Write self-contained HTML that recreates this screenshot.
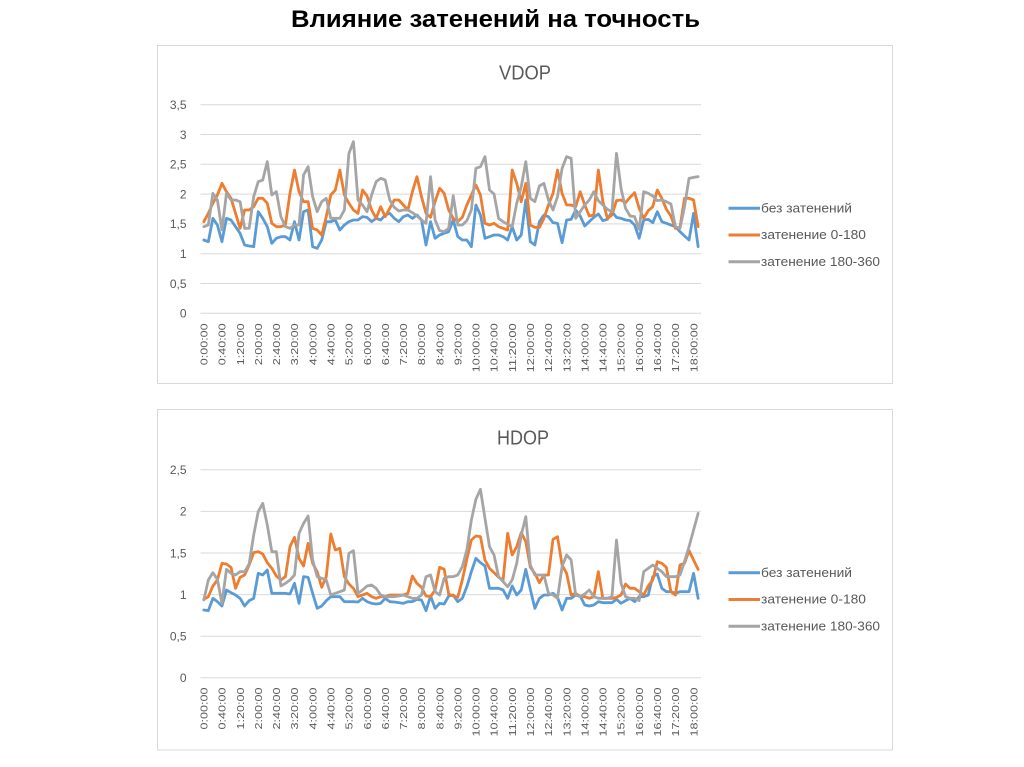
<!DOCTYPE html>
<html><head><meta charset="utf-8">
<style>html,body{margin:0;padding:0;background:#fff;width:1024px;height:767px;overflow:hidden}</style>
</head><body>
<svg width="1024" height="767" viewBox="0 0 1024 767" xmlns="http://www.w3.org/2000/svg" font-family="'Liberation Sans', 'DejaVu Sans', sans-serif">
<rect width="1024" height="767" fill="#fff"/>
<text x="291" y="27" font-size="24" font-weight="bold" fill="#000" textLength="409" lengthAdjust="spacingAndGlyphs">Влияние затенений на точность</text>

<!-- ===== VDOP ===== -->
<rect x="157.5" y="45.5" width="735" height="338" fill="#fff" stroke="#d9d9d9"/>
<text x="525" y="79.3" font-size="20" fill="#595959" text-anchor="middle" textLength="52" lengthAdjust="spacingAndGlyphs">VDOP</text>
<g stroke="#d9d9d9" stroke-width="1">
<line x1="200.5" x2="701" y1="104.7" y2="104.7"/>
<line x1="200.5" x2="701" y1="134.5" y2="134.5"/>
<line x1="200.5" x2="701" y1="164.3" y2="164.3"/>
<line x1="200.5" x2="701" y1="194.1" y2="194.1"/>
<line x1="200.5" x2="701" y1="223.9" y2="223.9"/>
<line x1="200.5" x2="701" y1="253.7" y2="253.7"/>
<line x1="200.5" x2="701" y1="283.5" y2="283.5"/>
<line x1="200.5" x2="701" y1="313.3" y2="313.3"/>
</g>
<g font-size="12" fill="#595959" text-anchor="end">
<text x="186.5" y="109">3,5</text>
<text x="186.5" y="138.8">3</text>
<text x="186.5" y="168.6">2,5</text>
<text x="186.5" y="198.4">2</text>
<text x="186.5" y="228.2">1,5</text>
<text x="186.5" y="258">1</text>
<text x="186.5" y="287.8">0,5</text>
<text x="186.5" y="317.6">0</text>
</g>
<g font-size="10.5" fill="#595959">
<text transform="translate(207.5,365.3) rotate(-90)" textLength="42" lengthAdjust="spacingAndGlyphs">0:00:00</text>
<text transform="translate(225.6,365.3) rotate(-90)" textLength="42" lengthAdjust="spacingAndGlyphs">0:40:00</text>
<text transform="translate(243.8,365.3) rotate(-90)" textLength="42" lengthAdjust="spacingAndGlyphs">1:20:00</text>
<text transform="translate(261.9,365.3) rotate(-90)" textLength="42" lengthAdjust="spacingAndGlyphs">2:00:00</text>
<text transform="translate(280.1,365.3) rotate(-90)" textLength="42" lengthAdjust="spacingAndGlyphs">2:40:00</text>
<text transform="translate(298.2,365.3) rotate(-90)" textLength="42" lengthAdjust="spacingAndGlyphs">3:20:00</text>
<text transform="translate(316.3,365.3) rotate(-90)" textLength="42" lengthAdjust="spacingAndGlyphs">4:00:00</text>
<text transform="translate(334.5,365.3) rotate(-90)" textLength="42" lengthAdjust="spacingAndGlyphs">4:40:00</text>
<text transform="translate(352.6,365.3) rotate(-90)" textLength="42" lengthAdjust="spacingAndGlyphs">5:20:00</text>
<text transform="translate(370.8,365.3) rotate(-90)" textLength="42" lengthAdjust="spacingAndGlyphs">6:00:00</text>
<text transform="translate(388.9,365.3) rotate(-90)" textLength="42" lengthAdjust="spacingAndGlyphs">6:40:00</text>
<text transform="translate(407.0,365.3) rotate(-90)" textLength="42" lengthAdjust="spacingAndGlyphs">7:20:00</text>
<text transform="translate(425.2,365.3) rotate(-90)" textLength="42" lengthAdjust="spacingAndGlyphs">8:00:00</text>
<text transform="translate(443.3,365.3) rotate(-90)" textLength="42" lengthAdjust="spacingAndGlyphs">8:40:00</text>
<text transform="translate(461.5,365.3) rotate(-90)" textLength="42" lengthAdjust="spacingAndGlyphs">9:20:00</text>
<text transform="translate(479.6,372.3) rotate(-90)" textLength="49" lengthAdjust="spacingAndGlyphs">10:00:00</text>
<text transform="translate(497.7,372.3) rotate(-90)" textLength="49" lengthAdjust="spacingAndGlyphs">10:40:00</text>
<text transform="translate(515.9,372.3) rotate(-90)" textLength="49" lengthAdjust="spacingAndGlyphs">11:20:00</text>
<text transform="translate(534.0,372.3) rotate(-90)" textLength="49" lengthAdjust="spacingAndGlyphs">12:00:00</text>
<text transform="translate(552.2,372.3) rotate(-90)" textLength="49" lengthAdjust="spacingAndGlyphs">12:40:00</text>
<text transform="translate(570.3,372.3) rotate(-90)" textLength="49" lengthAdjust="spacingAndGlyphs">13:20:00</text>
<text transform="translate(588.4,372.3) rotate(-90)" textLength="49" lengthAdjust="spacingAndGlyphs">14:00:00</text>
<text transform="translate(606.6,372.3) rotate(-90)" textLength="49" lengthAdjust="spacingAndGlyphs">14:40:00</text>
<text transform="translate(624.7,372.3) rotate(-90)" textLength="49" lengthAdjust="spacingAndGlyphs">15:20:00</text>
<text transform="translate(642.9,372.3) rotate(-90)" textLength="49" lengthAdjust="spacingAndGlyphs">16:00:00</text>
<text transform="translate(661.0,372.3) rotate(-90)" textLength="49" lengthAdjust="spacingAndGlyphs">16:40:00</text>
<text transform="translate(679.1,372.3) rotate(-90)" textLength="49" lengthAdjust="spacingAndGlyphs">17:20:00</text>
<text transform="translate(697.3,372.3) rotate(-90)" textLength="49" lengthAdjust="spacingAndGlyphs">18:00:00</text>
</g>
<g transform="translate(203.8,130) scale(4.535,0.333333)" fill="none" stroke-width="2.8" stroke-linejoin="round" stroke-linecap="round">
<polyline vector-effect="non-scaling-stroke" stroke="#5b9bd5" points="0,330 1,335 2,265 3,285 4,335 5,265 6,270 7,290 8,310 9,345 10,348 11,350 12,245 13,265 14,290 15,340 16,325 17,320 18,320 19,330 20,275 21,330 22,245 23,240 24,350 25,355 26,330 27,275 28,275 29,270 30,300 31,285 32,275 33,270 34,270 35,260 36,262 37,275 38,265 39,270 40,255 41,250 42,265 43,275 44,260 45,255 46,265 47,255 48,270 49,345 50,275 51,325 52,315 53,310 54,305 55,270 56,320 57,330 58,330 59,350 60,225 61,255 62,325 63,320 64,315 65,315 66,320 67,330 68,290 69,330 70,315 71,210 72,335 73,345 74,275 75,255 76,260 77,278 78,280 79,338 80,270 81,268 82,240 83,258 84,288 85,275 86,262 87,252 88,272 89,268 90,245 91,262 92,265 93,270 94,272 95,285 96,325 97,270 98,268 99,278 100,245 101,275 102,280 103,285 104,290 105,305 106,318 107,330 108,250 109,350"/>
<polyline vector-effect="non-scaling-stroke" stroke="#ed7d31" points="0,275 1,250 2,220 3,195 4,160 5,185 6,205 7,250 8,295 9,240 10,240 11,230 12,205 13,205 14,220 15,280 16,290 17,290 18,285 19,190 20,120 21,185 22,215 23,215 24,295 25,300 26,315 27,260 28,195 29,180 30,120 31,195 32,220 33,240 34,250 35,180 36,198 37,240 38,265 39,230 40,260 41,235 42,210 43,210 44,225 45,240 46,185 47,140 48,200 49,250 50,262 51,215 52,175 53,190 54,240 55,265 56,275 57,262 58,225 59,195 60,165 61,195 62,280 63,285 64,280 65,290 66,295 67,300 68,120 69,160 70,215 71,160 72,285 73,292 74,292 75,265 76,225 77,190 78,120 79,190 80,225 81,225 82,230 83,185 84,225 85,258 86,255 87,120 88,215 89,265 90,255 91,212 92,210 93,218 94,202 95,188 96,235 97,265 98,242 99,230 100,180 101,205 102,238 103,258 104,295 105,292 106,205 107,205 108,210 109,290"/>
<polyline vector-effect="non-scaling-stroke" stroke="#a5a5a5" points="0,290 1,285 2,190 3,210 4,300 5,190 6,210 7,210 8,215 9,295 10,295 11,200 12,155 13,150 14,95 15,195 16,185 17,260 18,290 19,295 20,285 21,285 22,135 23,110 24,200 25,245 26,215 27,205 28,265 29,265 30,265 31,240 32,70 33,35 34,210 35,225 36,245 37,195 38,155 39,145 40,150 41,210 42,232 43,243 44,240 45,240 46,248 47,258 48,270 49,280 50,140 51,270 52,302 53,305 54,295 55,197 56,285 57,285 58,272 59,240 60,115 61,110 62,80 63,180 64,192 65,265 66,275 67,283 68,290 69,220 70,170 71,95 72,205 73,215 74,168 75,160 76,210 77,240 78,200 79,115 80,80 81,85 82,265 83,245 84,225 85,210 86,185 87,212 88,225 89,238 90,245 91,70 92,175 93,235 94,258 95,260 96,298 97,185 98,190 99,198 100,212 101,210 102,215 103,222 104,290 105,295 106,230 107,145 108,142 109,140"/>
</g>
<g stroke-width="3">
<line x1="728.5" x2="760" y1="208.3" y2="208.3" stroke="#5b9bd5"/>
<line x1="728.5" x2="760" y1="235" y2="235" stroke="#ed7d31"/>
<line x1="728.5" x2="760" y1="261.7" y2="261.7" stroke="#a5a5a5"/>
</g>
<g font-size="12.5" fill="#595959">
<text x="761" y="212.3" textLength="91" lengthAdjust="spacingAndGlyphs">без затенений</text>
<text x="761" y="239.2" textLength="105" lengthAdjust="spacingAndGlyphs">затенение 0-180</text>
<text x="761" y="265.9" textLength="119" lengthAdjust="spacingAndGlyphs">затенение 180-360</text>
</g>

<!-- ===== HDOP ===== -->
<rect x="157.5" y="409.5" width="735" height="340.5" fill="#fff" stroke="#d9d9d9"/>
<text x="523" y="444.3" font-size="20" fill="#595959" text-anchor="middle" textLength="52" lengthAdjust="spacingAndGlyphs">HDOP</text>
<g stroke="#d9d9d9" stroke-width="1">
<line x1="200.5" x2="701" y1="469.8" y2="469.8"/>
<line x1="200.5" x2="701" y1="511.4" y2="511.4"/>
<line x1="200.5" x2="701" y1="553" y2="553"/>
<line x1="200.5" x2="701" y1="594.6" y2="594.6"/>
<line x1="200.5" x2="701" y1="636.2" y2="636.2"/>
<line x1="200.5" x2="701" y1="677.8" y2="677.8"/>
</g>
<g font-size="12" fill="#595959" text-anchor="end">
<text x="186.5" y="474.1">2,5</text>
<text x="186.5" y="515.7">2</text>
<text x="186.5" y="557.3">1,5</text>
<text x="186.5" y="598.9">1</text>
<text x="186.5" y="640.5">0,5</text>
<text x="186.5" y="682.1">0</text>
</g>
<g font-size="10.5" fill="#595959">
<text transform="translate(207.5,729.5) rotate(-90)" textLength="42" lengthAdjust="spacingAndGlyphs">0:00:00</text>
<text transform="translate(225.6,729.5) rotate(-90)" textLength="42" lengthAdjust="spacingAndGlyphs">0:40:00</text>
<text transform="translate(243.8,729.5) rotate(-90)" textLength="42" lengthAdjust="spacingAndGlyphs">1:20:00</text>
<text transform="translate(261.9,729.5) rotate(-90)" textLength="42" lengthAdjust="spacingAndGlyphs">2:00:00</text>
<text transform="translate(280.1,729.5) rotate(-90)" textLength="42" lengthAdjust="spacingAndGlyphs">2:40:00</text>
<text transform="translate(298.2,729.5) rotate(-90)" textLength="42" lengthAdjust="spacingAndGlyphs">3:20:00</text>
<text transform="translate(316.3,729.5) rotate(-90)" textLength="42" lengthAdjust="spacingAndGlyphs">4:00:00</text>
<text transform="translate(334.5,729.5) rotate(-90)" textLength="42" lengthAdjust="spacingAndGlyphs">4:40:00</text>
<text transform="translate(352.6,729.5) rotate(-90)" textLength="42" lengthAdjust="spacingAndGlyphs">5:20:00</text>
<text transform="translate(370.8,729.5) rotate(-90)" textLength="42" lengthAdjust="spacingAndGlyphs">6:00:00</text>
<text transform="translate(388.9,729.5) rotate(-90)" textLength="42" lengthAdjust="spacingAndGlyphs">6:40:00</text>
<text transform="translate(407.0,729.5) rotate(-90)" textLength="42" lengthAdjust="spacingAndGlyphs">7:20:00</text>
<text transform="translate(425.2,729.5) rotate(-90)" textLength="42" lengthAdjust="spacingAndGlyphs">8:00:00</text>
<text transform="translate(443.3,729.5) rotate(-90)" textLength="42" lengthAdjust="spacingAndGlyphs">8:40:00</text>
<text transform="translate(461.5,729.5) rotate(-90)" textLength="42" lengthAdjust="spacingAndGlyphs">9:20:00</text>
<text transform="translate(479.6,736.5) rotate(-90)" textLength="49" lengthAdjust="spacingAndGlyphs">10:00:00</text>
<text transform="translate(497.7,736.5) rotate(-90)" textLength="49" lengthAdjust="spacingAndGlyphs">10:40:00</text>
<text transform="translate(515.9,736.5) rotate(-90)" textLength="49" lengthAdjust="spacingAndGlyphs">11:20:00</text>
<text transform="translate(534.0,736.5) rotate(-90)" textLength="49" lengthAdjust="spacingAndGlyphs">12:00:00</text>
<text transform="translate(552.2,736.5) rotate(-90)" textLength="49" lengthAdjust="spacingAndGlyphs">12:40:00</text>
<text transform="translate(570.3,736.5) rotate(-90)" textLength="49" lengthAdjust="spacingAndGlyphs">13:20:00</text>
<text transform="translate(588.4,736.5) rotate(-90)" textLength="49" lengthAdjust="spacingAndGlyphs">14:00:00</text>
<text transform="translate(606.6,736.5) rotate(-90)" textLength="49" lengthAdjust="spacingAndGlyphs">14:40:00</text>
<text transform="translate(624.7,736.5) rotate(-90)" textLength="49" lengthAdjust="spacingAndGlyphs">15:20:00</text>
<text transform="translate(642.9,736.5) rotate(-90)" textLength="49" lengthAdjust="spacingAndGlyphs">16:00:00</text>
<text transform="translate(661.0,736.5) rotate(-90)" textLength="49" lengthAdjust="spacingAndGlyphs">16:40:00</text>
<text transform="translate(679.1,736.5) rotate(-90)" textLength="49" lengthAdjust="spacingAndGlyphs">17:20:00</text>
<text transform="translate(697.3,736.5) rotate(-90)" textLength="49" lengthAdjust="spacingAndGlyphs">18:00:00</text>
</g>
<g transform="translate(203.8,480) scale(4.535,0.333333)" fill="none" stroke-width="2.8" stroke-linejoin="round" stroke-linecap="round">
<polyline vector-effect="non-scaling-stroke" stroke="#5b9bd5" points="0,390 1,392 2,355 3,365 4,378 5,330 6,338 7,345 8,355 9,378 10,362 11,355 12,280 13,285 14,270 15,340 16,340 17,340 18,340 19,342 20,310 21,370 22,290 23,292 24,340 25,385 26,378 27,362 28,350 29,350 30,350 31,365 32,365 33,365 34,366 35,355 36,365 37,370 38,372 39,370 40,355 41,365 42,366 43,368 44,370 45,365 46,365 47,358 48,360 49,392 50,348 51,385 52,370 53,372 54,348 55,345 56,365 57,355 58,320 59,275 60,235 61,248 62,258 63,325 64,325 65,325 66,330 67,355 68,318 69,345 70,330 71,268 72,328 73,385 74,355 75,345 76,345 77,340 78,352 79,390 80,355 81,355 82,345 83,348 84,375 85,378 86,375 87,365 88,368 89,368 90,368 91,358 92,370 93,362 94,355 95,365 96,350 97,350 98,345 99,290 100,282 101,325 102,335 103,335 104,340 105,335 106,335 107,335 108,280 109,355"/>
<polyline vector-effect="non-scaling-stroke" stroke="#ed7d31" points="0,358 1,350 2,318 3,300 4,250 5,252 6,262 7,325 8,292 9,285 10,255 11,218 12,215 13,222 14,248 15,265 16,288 17,300 18,290 19,200 20,172 21,235 22,258 23,190 24,250 25,275 26,322 27,290 28,162 29,210 30,205 31,290 32,312 33,325 34,350 35,345 36,340 37,350 38,355 39,350 40,350 41,345 42,345 43,345 44,345 45,340 46,288 47,310 48,322 49,348 50,350 51,330 52,262 53,268 54,342 55,348 56,352 57,300 58,238 59,180 60,168 61,170 62,240 63,265 64,278 65,292 66,300 67,160 68,225 69,200 70,158 71,185 72,262 73,280 74,308 75,285 76,285 77,178 78,170 79,255 80,280 81,345 82,340 83,350 84,350 85,355 86,350 87,275 88,355 89,355 90,355 91,352 92,345 93,312 94,325 95,325 96,335 97,345 98,318 99,300 100,245 101,250 102,262 103,335 104,345 105,255 106,250 107,212 108,240 109,268"/>
<polyline vector-effect="non-scaling-stroke" stroke="#a5a5a5" points="0,360 1,300 2,278 3,298 4,370 5,268 6,280 7,285 8,275 9,275 10,252 11,165 12,95 13,70 14,135 15,215 16,215 17,318 18,310 19,300 20,285 21,160 22,130 23,108 24,240 25,290 26,295 27,300 28,345 29,340 30,335 31,330 32,220 33,212 34,340 35,330 36,318 37,315 38,325 39,345 40,350 41,350 42,350 43,348 44,345 45,350 46,355 47,355 48,345 49,290 50,285 51,335 52,345 53,295 54,290 55,290 56,285 57,260 58,210 59,120 60,58 61,28 62,115 63,200 64,225 65,290 66,305 67,320 68,300 69,250 70,165 71,110 72,255 73,285 74,285 75,285 76,340 77,345 78,355 79,260 80,225 81,240 82,345 83,350 84,342 85,330 86,350 87,355 88,355 89,355 90,350 91,180 92,310 93,350 94,355 95,355 96,362 97,275 98,265 99,255 100,265 101,275 102,290 103,290 104,290 105,285 106,245 107,200 108,150 109,100"/>
</g>
<g stroke-width="3">
<line x1="728.5" x2="760" y1="572.8" y2="572.8" stroke="#5b9bd5"/>
<line x1="728.5" x2="760" y1="599.5" y2="599.5" stroke="#ed7d31"/>
<line x1="728.5" x2="760" y1="626.2" y2="626.2" stroke="#a5a5a5"/>
</g>
<g font-size="12.5" fill="#595959">
<text x="761" y="576.8" textLength="91" lengthAdjust="spacingAndGlyphs">без затенений</text>
<text x="761" y="603.7" textLength="105" lengthAdjust="spacingAndGlyphs">затенение 0-180</text>
<text x="761" y="630.4" textLength="119" lengthAdjust="spacingAndGlyphs">затенение 180-360</text>
</g>
</svg>
</body></html>
